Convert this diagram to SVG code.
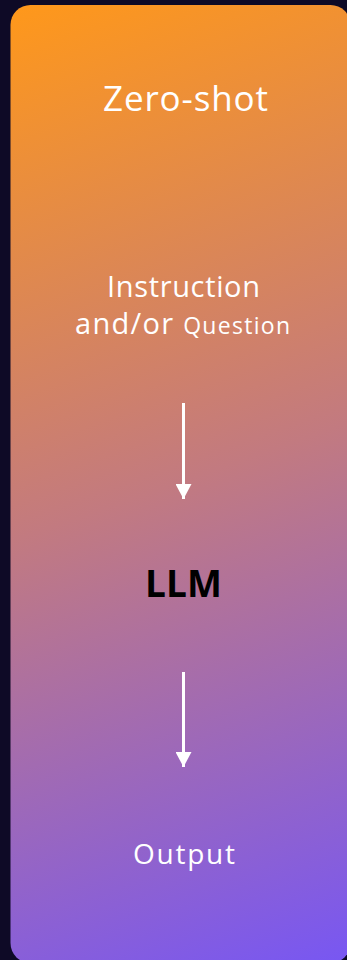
<svg xmlns="http://www.w3.org/2000/svg" width="347" height="960" viewBox="0 0 347 960">
  <defs>
    <linearGradient id="bg" gradientUnits="userSpaceOnUse" x1="10" y1="5" x2="347" y2="960">
      <stop offset="0" stop-color="#ff981a"/>
      <stop offset="0.5" stop-color="#c27a80"/>
      <stop offset="1" stop-color="#7857f2"/>
    </linearGradient>
    <marker id="arrow" viewBox="0 0 15 16" refX="15" refY="8" markerWidth="15" markerHeight="16" markerUnits="userSpaceOnUse" orient="auto">
      <path d="M0,0 L15,8 L0,16 Z" fill="#ffffff"/>
    </marker>
    <style>
      .t { font-family: "Open Sans", "Noto Sans", "Liberation Sans", sans-serif; fill: #ffffff; text-anchor: middle; }
      .conn { stroke: #ffffff; stroke-width: 3; fill: none; }
    </style>
  </defs>
  <rect x="0" y="0" width="347" height="960" fill="#0e0a26"/>
  <g id="panel">
    <rect x="10.5" y="5" width="340" height="958" rx="20" fill="url(#bg)"/>
  </g>
  <g id="title">
    <text class="t" x="185.5" y="111" font-size="35" textLength="165" lengthAdjust="spacing">Zero-shot</text>
  </g>
  <g id="input">
    <text class="t" x="183.5" y="297" font-size="29" textLength="153" lengthAdjust="spacing">Instruction</text>
    <text class="t" x="182.5" y="334" font-size="29" textLength="215" lengthAdjust="spacing">and/or <tspan font-size="23">Question</tspan></text>
  </g>
  <g id="llm">
    <text x="183.5" y="597" font-family="'Open Sans', 'Noto Sans', 'Liberation Sans', sans-serif" font-size="37" font-weight="700" fill="#000000" text-anchor="middle" textLength="77" lengthAdjust="spacing">LLM</text>
  </g>
  <g id="output">
    <text class="t" x="184" y="864" font-size="28" textLength="102" lengthAdjust="spacing">Output</text>
  </g>
  <g id="connectors">
    <path class="conn" d="M183.5,403 L183.5,499" marker-end="url(#arrow)"/>
    <path class="conn" d="M183.5,672 L183.5,767" marker-end="url(#arrow)"/>
  </g>
</svg>
